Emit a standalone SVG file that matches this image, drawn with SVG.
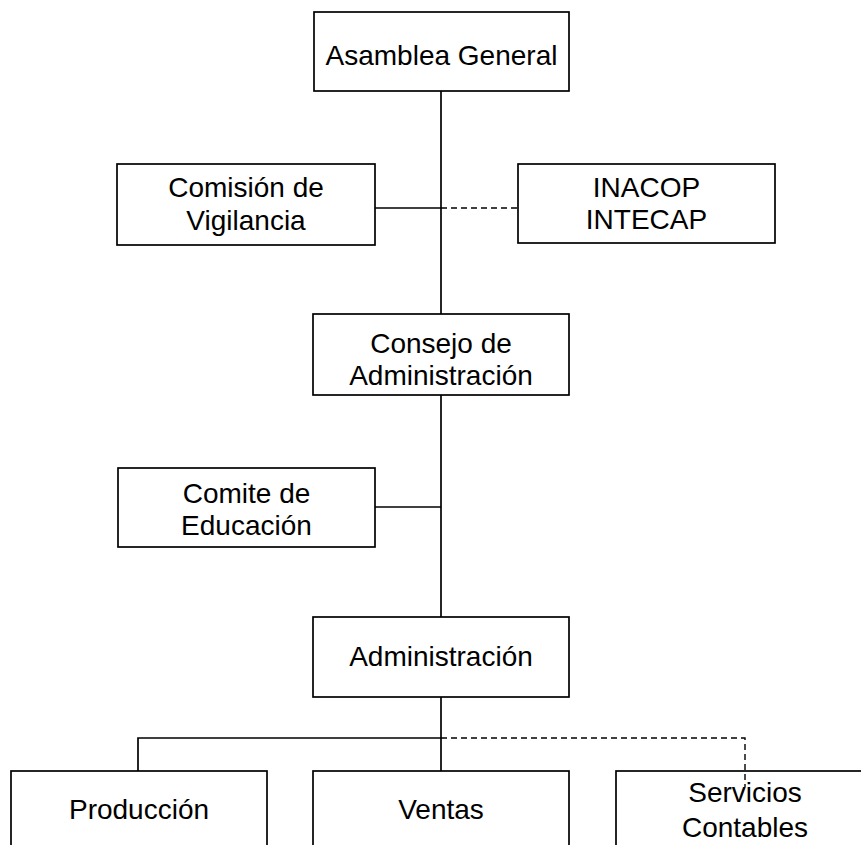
<svg xmlns="http://www.w3.org/2000/svg" width="861" height="845" viewBox="0 0 861 845">
<style>
.box{fill:#fff;stroke:#000;stroke-width:1.7}
.ln{fill:none;stroke:#000;stroke-width:1.7}
.dash{fill:none;stroke:#000;stroke-width:1.4;stroke-dasharray:6 4}
text{font-family:"Liberation Sans",Arial,sans-serif;font-size:28px;fill:#000;text-anchor:middle}
</style>
<rect width="861" height="845" fill="#fff"/>
<g id="connectors">
<line class="ln" x1="441" y1="91" x2="441" y2="314"/>
<line class="ln" x1="375" y1="208" x2="441" y2="208"/>
<line class="dash" x1="441" y1="208" x2="518" y2="208"/>
<line class="ln" x1="441" y1="395" x2="441" y2="617"/>
<line class="ln" x1="375" y1="507" x2="441" y2="507"/>
<line class="ln" x1="441" y1="697" x2="441" y2="771"/>
<polyline class="ln" points="441,738 138,738 138,771"/>
<polyline class="dash" points="441,738 745,738 745,787"/>
</g>
<g id="asamblea"><rect class="box" x="314" y="12" width="255" height="79"/><text x="441.5" y="65">Asamblea General</text></g>
<g id="comision"><rect class="box" x="117" y="164" width="258" height="81"/><text x="246" y="197">Comisión de</text><text x="246" y="230">Vigilancia</text></g>
<g id="inacop"><rect class="box" x="518" y="164" width="257" height="79"/><text x="646.5" y="197">INACOP</text><text x="646.5" y="229">INTECAP</text></g>
<g id="consejo"><rect class="box" x="313" y="314" width="256" height="81"/><text x="441" y="353">Consejo de</text><text x="441" y="385">Administración</text></g>
<g id="comite"><rect class="box" x="118" y="468" width="257" height="79"/><text x="246.5" y="503">Comite de</text><text x="246.5" y="535">Educación</text></g>
<g id="administracion"><rect class="box" x="313" y="617" width="256" height="80"/><text x="441" y="666">Administración</text></g>
<g id="produccion"><rect class="box" x="11" y="771" width="256" height="90"/><text x="139" y="819">Producción</text></g>
<g id="ventas"><rect class="box" x="313" y="771" width="256" height="90"/><text x="441" y="819">Ventas</text></g>
<g id="servicios"><rect class="box" x="616" y="771" width="258" height="90" style="fill:none"/><text x="745" y="802">Servicios</text><text x="745" y="837">Contables</text></g>
</svg>
